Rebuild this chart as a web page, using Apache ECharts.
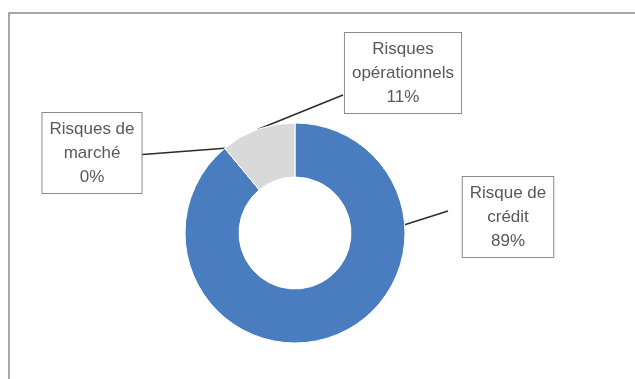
<!DOCTYPE html>
<html>
<head>
<meta charset="utf-8">
<script src="https://cdn.jsdelivr.net/npm/echarts@6/dist/echarts.min.js"></script>
<style>
html,body{margin:0;padding:0;background:#fff;}
#c{width:635px;height:379px;}
</style>
</head>
<body>
<div id="c"></div>
<script>
var categories = ['Risque de\ncrédit', 'Risques de\nmarché', 'Risques\nopérationnels'];
var values = [89, 0, 11];
var colors = ['#4a7dbf', '#4a7dbf', '#d9d9d9'];

var pieCenter = [295, 233];
var pieRadius = [56, 110];
var labelCenters = [[508, 217], [92, 153], [403, 73]];
var leaderEndOffsets = [[-60, -6], [44, 2], [-60, 22]];
var leaderFromEdge = [true, false, false];

var chart = echarts.init(document.getElementById('c'), null, {renderer: 'canvas'});
var data = categories.map(function (c, i) {
  return {name: c, value: values[i], itemStyle: {color: colors[i]}};
});
chart.setOption({
  animation: false,
  backgroundColor: '#fff',
  graphic: [{
    type: 'rect',
    shape: {x: 9, y: 13, width: 700, height: 420},
    style: {fill: 'none', stroke: '#8a8a8a', lineWidth: 1.5},
    silent: true,
    z: 0
  }],
  series: [{
    type: 'pie',
    center: pieCenter,
    radius: pieRadius,
    startAngle: 90,
    clockwise: true,
    avoidLabelOverlap: false,
    percentPrecision: 0,
    itemStyle: {borderColor: '#ffffff', borderWidth: 1},
    label: {
      show: true,
      formatter: function (p) { return p.name + '\n' + Math.round(p.percent) + '%'; },
      fontFamily: 'Liberation Sans',
      fontSize: 17,
      lineHeight: 24,
      color: '#595959',
      backgroundColor: '#fff',
      borderColor: '#8a8a8a',
      borderWidth: 1,
      padding: [5, 7, 3, 7],
      align: 'center'
    },
    labelLine: {
      show: true,
      length: 10,
      length2: 10,
      lineStyle: {color: '#2b2b2b', width: 1.5}
    },
    labelLayout: function (p) {
      var i = p.dataIndex;
      var c = labelCenters[i];
      var end = [c[0] + leaderEndOffsets[i][0], c[1] + leaderEndOffsets[i][1]];
      var start;
      if (leaderFromEdge[i]) {
        var dx = c[0] - pieCenter[0], dy = c[1] - pieCenter[1];
        var d = Math.sqrt(dx * dx + dy * dy);
        start = [pieCenter[0] + dx / d * pieRadius[1], pieCenter[1] + dy / d * pieRadius[1]];
      } else {
        start = p.labelLinePoints ? p.labelLinePoints[0] : end;
      }
      return {x: c[0], y: c[1], align: 'center', verticalAlign: 'middle',
              labelLinePoints: [start, end]};
    },
    data: data
  }]
});
</script>
</body>
</html>
